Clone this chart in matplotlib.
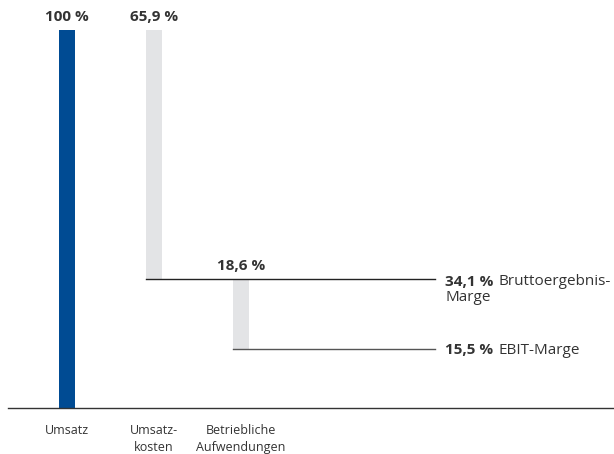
import matplotlib
matplotlib.use("Agg")
import matplotlib.pyplot as plt

categories = ["Umsatz", "Umsatz-\nkosten", "Betriebliche\nAufwendungen"]
bar_tops = [100.0, 100.0, 34.1]
bar_bottoms = [0.0, 34.1, 15.5]
bar_labels = ["100 %", "65,9 %", "18,6 %"]
bar_colors = ["#004b93", "#e3e4e6", "#e3e4e6"]
margin_values = [34.1, 15.5]
margin_value_labels = ["34,1 %", "15,5 %"]
margin_names = ["Bruttoergebnis-\nMarge", "EBIT-Marge"]

plt.rcParams['font.family'] = ['Open Sans', 'DejaVu Sans']
txt = "#333333"

fig = plt.figure(figsize=(6.14, 4.54), dpi=100)
ax = fig.add_axes([0, 0, 1, 1])
ax.set_xlim(-0.770, 6.287)
ax.set_ylim(-12.17, 107.94)
ax.axis("off")

w = 0.184
xs = list(range(len(categories)))
for x, top, bot, lab, col in zip(xs, bar_tops, bar_bottoms, bar_labels, bar_colors):
    ax.bar(x, top - bot, bottom=bot, width=w, color=col, zorder=2)
    ax.annotate(lab, (x, top), xytext=(0, 9.5), textcoords="offset points",
                ha="center", va="center", fontsize=11, fontweight="bold", color=txt)
    for i, line in enumerate(categories[x].split("\n")):
        ax.annotate(line, (x, 0), xytext=(0, -16 - 12.3 * i), textcoords="offset points",
                    ha="center", va="center", fontsize=9, color=txt)

# baseline
ax.plot([-0.678, 6.287], [0, 0], color="#333333", lw=1.0, zorder=3)

# connector lines
line_end = 4.23
label_x = 4.345
ax.plot([1 - w / 2, line_end], [margin_values[0]] * 2, color="#222222", lw=1.0, zorder=3)
ax.plot([2 - w / 2, line_end], [margin_values[1]] * 2, color="#555555", lw=1.0, zorder=3)

fig.canvas.draw()
r = fig.canvas.get_renderer()
for j, (val, vl, nm) in enumerate(zip(margin_values, margin_value_labels, margin_names)):
    dy = -2.0 if j == 0 else -0.5
    t = ax.annotate(vl, (label_x, val), xytext=(0, dy), textcoords="offset points",
                    ha="left", va="center", fontsize=11, fontweight="bold", color=txt)
    bb = t.get_window_extent(renderer=r)
    first, *rest = nm.split("\n")
    ax.annotate(first, (label_x, val), xytext=(bb.width * 72 / 100 + 4, dy),
                textcoords="offset points", ha="left", va="center", fontsize=11, color=txt)
    for i, line in enumerate(rest):
        ax.annotate(line, (label_x, val), xytext=(0, dy - 11.5 * (i + 1)),
                    textcoords="offset points", ha="left", va="center", fontsize=11, color=txt)

fig.savefig("out.png", dpi=100)
